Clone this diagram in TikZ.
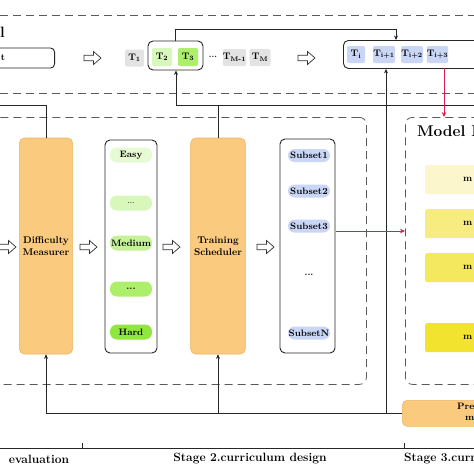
\documentclass[tikz,border=0pt]{standalone}
\usepackage{fontspec}
\usetikzlibrary{arrows.meta}
\definecolor{orF}{HTML}{FACB7E}
\definecolor{orD}{HTML}{EEB460}
\definecolor{tgray}{HTML}{E3E3E3}
\definecolor{tblue}{HTML}{C9D6F6}
\definecolor{gA}{HTML}{E6FAD3}
\definecolor{gB}{HTML}{D8F7BB}
\definecolor{gC}{HTML}{C5F299}
\definecolor{gD}{HTML}{ADEE6A}
\definecolor{gE}{HTML}{8FE63C}
\definecolor{yA}{HTML}{FCF6CC}
\definecolor{yB}{HTML}{F6EC80}
\definecolor{yC}{HTML}{F4E85E}
\definecolor{yD}{HTML}{F2E42E}
\definecolor{crim}{HTML}{D81E4E}
\definecolor{dgray}{HTML}{5A5A5A}
\tikzset{
  dline/.style={draw=dgray, line width=0.8pt, dash pattern=on 8pt off 5pt},
  conn/.style={draw=black!85, line width=0.8pt},
  arr/.style={conn, -{Stealth[length=4.5pt,width=4pt]}},
  redarr/.style={draw=crim, line width=0.9pt, -{Stealth[length=5pt,width=4.5pt]}},
  hollowline/.style={draw=black!80, fill=white, line width=0.7pt, line join=miter},
  tbox/.style={rounded corners=2pt, minimum height=17pt, inner sep=0pt,
    font=\bfseries\fontsize{9.5}{10}\selectfont},
  holder/.style={draw=black!85, line width=0.9pt, rounded corners=5pt},
  orbox/.style={draw=orD, fill=orF, line width=0.6pt, rounded corners=5pt,
    align=center, font=\bfseries\fontsize{9.8}{12}\selectfont},
  pill/.style={rounded corners=7pt, minimum width=42pt, minimum height=15pt, inner sep=0pt,
    font=\bfseries\fontsize{9.3}{10}\selectfont},
  spill/.style={rounded corners=6.5pt, fill=tblue, minimum width=42pt, minimum height=13pt, inner sep=0pt,
    font=\bfseries\fontsize{9.3}{10}\selectfont},
  ybox/.style={rounded corners=2pt, anchor=north west, minimum width=90pt, minimum height=29pt},
  ytext/.style={anchor=west, font=\bfseries\fontsize{9.5}{10}\selectfont, inner sep=0pt},
  stagelbl/.style={font=\bfseries\fontsize{12}{14}\selectfont, inner sep=0pt}
}
\newcommand\hollowarrow[1]{%
  \draw[hollowline] (#1) ++(-8.5,-2.8) -- ++(9.5,0) -- ++(0,-3.7) -- ++(7.5,6.5)
    -- ++(-7.5,6.5) -- ++(0,-3.7) -- ++(-9.5,0) -- cycle;}
\begin{document}
\begin{tikzpicture}[x=1pt,y=-1pt]
\clip (0,0) rectangle (474,474);
\fill[white] (0,0) rectangle (474,474);

% dashed separators
\draw[dline] (0,15) -- (474,15);
\draw[dline] (0,93) -- (474,93);

% top row
\node[font=\bfseries\fontsize{15}{16}\selectfont, inner sep=0pt] (ttl) at (2.5,32) {l};
\node[holder, rounded corners=4pt, minimum width=100pt, minimum height=20pt, anchor=east] (inp) at (55,58) {};
\node[font=\bfseries\fontsize{9.3}{10}\selectfont, inner sep=0pt] (inpt) at (3,58) {t};
\coordinate (ha1) at (92.5,58); \hollowarrow{ha1}

\node[tbox, fill=tgray, minimum width=19pt] (t1) at (134.5,58) {T\textsubscript{1}};
\node[holder, minimum width=55pt, minimum height=29pt] (c1) at (175.5,55.5) {};
\node[tbox, fill=gB, minimum width=20pt, minimum height=18pt] (t2) at (162,57) {T\textsubscript{2}};
\node[tbox, fill=gD, minimum width=20pt, minimum height=18pt] (t3) at (188,57) {T\textsubscript{3}};
\node[font=\bfseries\fontsize{8}{9}\selectfont, inner sep=0pt] (tdots) at (213,57) {...};
\node[tbox, fill=tgray, minimum width=21pt] (tm1) at (234.5,57.5) {T\textsubscript{M-1}};
\node[tbox, fill=tgray, minimum width=21pt] (tm) at (260,57.5) {T\textsubscript{M}};
\coordinate (ha2) at (306.5,58); \hollowarrow{ha2}

\node[holder, minimum width=160pt, minimum height=28pt, anchor=north west] (ci) at (343,40) {};
\node[tbox, fill=tblue, minimum width=18pt] (ti) at (356,54.5) {T\textsubscript{i}};
\node[tbox, fill=tblue, minimum width=22pt] (ti1) at (384,54.5) {T\textsubscript{i+1}};
\node[tbox, fill=tblue, minimum width=22pt] (ti2) at (412,54.5) {T\textsubscript{i+2}};
\node[tbox, fill=tblue, minimum width=21pt] (ti3) at (437.5,54.5) {T\textsubscript{i+3}};

% dashed frames
\node[dline, rounded corners=7pt, minimum width=386pt, minimum height=267pt, anchor=north west] (ld) at (-20,117) {};
\node[dline, rounded corners=7pt, minimum width=120pt, minimum height=267pt, anchor=north west] (md) at (405,117) {};

% stage 1/2 content
\coordinate (ha3) at (7.5,247); \hollowarrow{ha3}
\node[orbox, minimum width=52pt, minimum height=216pt] (dm) at (46,246) {Difficulty\\Measurer};
\coordinate (ha4) at (88.5,247); \hollowarrow{ha4}
\node[holder, minimum width=52pt, minimum height=213pt] (lv) at (131,246.5) {};
\node[pill, fill=gA] (pe) at (131,155) {Easy};
\node[pill, fill=gB] (pd1) at (131,203) {\fontsize{6}{7}\selectfont ...};
\node[pill, fill=gC] (pm) at (131,243) {Medium};
\node[pill, fill=gD] (pd2) at (131,289) {...};
\node[pill, fill=gE] (ph) at (131,332) {Hard};
\coordinate (ha5) at (171.5,247); \hollowarrow{ha5}
\node[orbox, minimum width=52pt, minimum height=216pt] (ts) at (218,246) {Training\\Scheduler};
\coordinate (ha6) at (265.5,247); \hollowarrow{ha6}
\node[holder, minimum width=55pt, minimum height=214pt] (sb) at (307.5,246) {};
\node[spill] (s1) at (309,155.5) {Subset1};
\node[spill] (s2) at (309,191) {Subset2};
\node[spill] (s3) at (309,226) {Subset3};
\node[font=\bfseries\fontsize{9}{10}\selectfont, inner sep=0pt] (sd) at (309,275) {...};
\node[spill] (sn) at (309,333) {SubsetN};

% model box content
\node[anchor=west, inner sep=0pt, font=\bfseries\fontsize{15.5}{17}\selectfont] (mdt) at (417,131) {Model D};
\node[ybox, fill=yA] (y1) at (425,165) {};
\node[ybox, fill=yB] (y2) at (425,209) {};
\node[ybox, fill=yC] (y3) at (425,253) {};
\node[ybox, fill=yD] (y4) at (425,323) {};
\node[ytext] (y1t) at (463,179.5) {m};
\node[ytext] (y2t) at (463,223.5) {m};
\node[ytext] (y3t) at (463,267.5) {m};
\node[ytext] (y4t) at (463,337.5) {m};

\node[draw=orD, fill=orF, line width=0.6pt, rounded corners=5pt, anchor=north west,
      minimum width=120pt, minimum height=26pt] (pre) at (402,400) {};
\node[ytext, font=\bfseries\fontsize{9.3}{10}\selectfont] (pret) at (457,406) {Pre};
\node[ytext, font=\bfseries\fontsize{9.3}{10}\selectfont] (prem) at (465,418.5) {m};

% connectors
\coordinate (j1) at (175.5,29);
\coordinate (j2) at (396,29);
\draw[arr] (c1.north) -- (j1) -- (j2) -- (j2 |- ci.north);

\coordinate (h1) at (176,105);
\coordinate (hR) at (480,105);
\coordinate (hL) at (-5,105);
\draw[conn] (h1) -- (hR);
\draw[arr] (h1) -- (h1 |- c1.south);
\draw[conn] (ts.north |- h1) -- (ts.north);
\draw[conn] (hL) -| (dm.north);

\coordinate (bL) at (46,413);
\coordinate (bv) at (386,413);
\draw[conn] (bL) -- (bL -| pre.west);
\draw[arr] (bL) -- (dm.south);
\draw[arr] (ts.south |- bL) -- (ts.south);
\draw[arr] (bv) -- (bv |- ci.south);

\coordinate (r1) at (444,68);
\draw[redarr] (r1) -- (r1 |- md.north);
\coordinate (r2) at (335.5,231);
\draw[redarr] (r2) -- (r2 -| md.west);

% stage axis
\coordinate (ax0) at (0,448);
\coordinate (ax1) at (474,448);
\draw[conn] (ax0) -- (ax1);
\coordinate (tk1) at (82,448);
\coordinate (tk2) at (404,448);
\draw[conn] (tk1) -- ++(0,-5);
\draw[conn] (tk2) -- ++(0,-5);
\node[stagelbl] (l1) at (39,459) {evaluation};
\node[stagelbl] (l2) at (250,459) {Stage 2.curriculum design};
\node[stagelbl, anchor=west] (l3) at (404,459) {Stage 3.curr};
\end{tikzpicture}
\end{document}
